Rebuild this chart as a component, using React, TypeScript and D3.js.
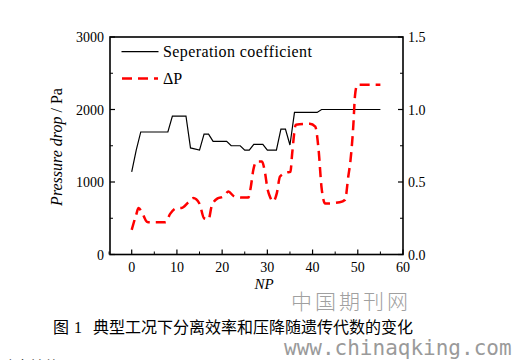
import React from 'react';
import * as d3 from 'd3';

// separation coefficient (right axis), vertices
const sepNP = [0, 1, 2, 8, 9, 12, 13, 15, 16, 17, 18, 21, 22, 24, 25, 26, 27, 29, 30, 32, 33, 34, 35, 36, 41, 42, 55];
const sepVal = [0.57, 0.72, 0.845, 0.845, 0.955, 0.955, 0.735, 0.72, 0.83, 0.83, 0.78, 0.78, 0.75, 0.75, 0.72, 0.72, 0.76, 0.76, 0.72, 0.72, 0.865, 0.865, 0.755, 0.98, 0.98, 1.0, 1.0];

// pressure drop (left axis, Pa)
const dpNP = [0, 1, 1.5, 2.5, 3.3, 4, 7.5, 8.5, 10, 11, 12.5, 13.6, 15, 16, 17, 17.7, 19, 20.3, 21.4, 22.5, 24.3, 25.8, 26.3, 26.9, 27.6, 28.8, 29.5, 30, 30.6, 31.3, 32.1, 32.8, 34.3, 35.1, 35.5, 36.3, 39.4, 40.6, 41.3, 42, 42.8, 46, 47.2, 47.9, 48.4, 49, 49.4, 49.9, 55];
const dpVal = [340, 550, 640, 550, 455, 445, 445, 560, 640, 640, 717, 778, 700, 500, 485, 672, 775, 800, 869, 810, 786, 786, 916, 1168, 1283, 1283, 1123, 916, 793, 731, 847, 1076, 1131, 1140, 1400, 1790, 1805, 1765, 1467, 916, 703, 720, 755, 1076, 1306, 1766, 2203, 2340, 2340];

const xTicks = [0, 10, 20, 30, 40, 50, 60];
const xMinor = [-5, 5, 15, 25, 35, 45, 55];
const leftTicks = [0, 1000, 2000, 3000];
const leftMinor = [500, 1500, 2500];
const rightTicks = ['0.0', '0.5', '1.0', '1.5'];
const rightMinor = [0.25, 0.75, 1.25];

const W = 517;
const H = 360;
const serif = '"Liberation Serif", serif';
const cjk = '"Noto Sans CJK SC", sans-serif';

export default function App(): JSX.Element {
  const left = 110;
  const right = 403;
  const top = 37;
  const bottom = 254.5;

  const x = d3.scaleLinear().domain([-4.8, 60]).range([left, right]);
  const yL = d3.scaleLinear().domain([0, 3000]).range([bottom, top]);
  const yR = d3.scaleLinear().domain([0, 1.5]).range([bottom, top]);

  const sepLine = d3
    .line<number>()
    .x((_, i) => x(sepNP[i]))
    .y((d) => yR(d))(sepVal) || '';
  const dpLine = d3
    .line<number>()
    .x((_, i) => x(dpNP[i]))
    .y((d) => yL(d))
    .curve(d3.curveMonotoneX)(dpVal) || '';

  return (
    <svg
      width={W}
      height={H}
      style={{ position: 'absolute', left: 0, top: 0, background: 'white' }}
    >
      {/* frame */}
      <rect x={left} y={top} width={right - left} height={bottom - top} fill="none" stroke="#000" strokeWidth={1.6} />

      {/* bottom ticks */}
      {xTicks.map((t) => (
        <g key={'xt' + t}>
          <line x1={x(t)} x2={x(t)} y1={bottom} y2={bottom - 5} stroke="#000" strokeWidth={1.2} />
          <text x={x(t)} y={272} textAnchor="middle" style={{ fontFamily: serif }} fontSize={14}>
            {t}
          </text>
        </g>
      ))}
      {xMinor.map((t) => (
        <line key={'xm' + t} x1={x(t)} x2={x(t)} y1={bottom} y2={bottom - 3} stroke="#000" strokeWidth={1} />
      ))}

      {/* left ticks */}
      {leftTicks.map((t) => (
        <g key={'lt' + t}>
          <line x1={left} x2={left + 5} y1={yL(t)} y2={yL(t)} stroke="#000" strokeWidth={1.2} />
          <text x={104} y={yL(t) + 5} textAnchor="end" style={{ fontFamily: serif }} fontSize={14}>
            {t}
          </text>
        </g>
      ))}
      {leftMinor.map((t) => (
        <line key={'lm' + t} x1={left} x2={left + 3} y1={yL(t)} y2={yL(t)} stroke="#000" strokeWidth={1} />
      ))}

      {/* right ticks */}
      {rightTicks.map((t) => (
        <g key={'rt' + t}>
          <line x1={right} x2={right - 5} y1={yR(+t)} y2={yR(+t)} stroke="#000" strokeWidth={1.2} />
          <text x={408} y={yR(+t) + 5} style={{ fontFamily: serif }} fontSize={14}>
            {t}
          </text>
        </g>
      ))}
      {rightMinor.map((t) => (
        <line key={'rm' + t} x1={right} x2={right - 3} y1={yR(t)} y2={yR(t)} stroke="#000" strokeWidth={1} />
      ))}

      {/* series */}
      <path d={sepLine} fill="none" stroke="#000" strokeWidth={1.2} />
      <path d={dpLine} fill="none" stroke="#ff0000" strokeWidth={2.5} strokeDasharray="10 6" />

      {/* legend */}
      <line x1={121.5} x2={158.5} y1={51.7} y2={51.7} stroke="#000" strokeWidth={1.2} />
      <text x={163} y={57} style={{ fontFamily: serif }} fontSize={16} letterSpacing={0.4}>
        Seperation coefficient
      </text>
      <line x1={122} x2={158} y1={78.5} y2={78.5} stroke="#ff0000" strokeWidth={2.5} strokeDasharray="10 6" />
      <text x={163} y={84} style={{ fontFamily: serif }} fontSize={16}>
        ΔP
      </text>

      {/* axis titles */}
      <text
        transform="translate(62,147) rotate(-90)"
        textAnchor="middle"
        style={{ fontFamily: serif }}
        fontSize={16}
      >
        <tspan fontStyle="italic">Pressure drop</tspan>
        <tspan> / Pa</tspan>
      </text>
      <text x={264} y={289} textAnchor="middle" style={{ fontFamily: serif }} fontSize={15} fontStyle="italic">
        NP
      </text>

      {/* watermark + caption */}
      <text x={291} y={309} style={{ fontFamily: cjk }} fontSize={21} fill="#a0a0a0" fontWeight={300} letterSpacing={3}>
        中国期刊网
      </text>
      <text y={333} style={{ fontFamily: cjk }} fontSize={16} fill="#000">
        <tspan x={53}>图</tspan>
        <tspan x={74} style={{ fontFamily: serif }}>1</tspan>
        <tspan x={93}>典型工况下分离效率和压降随遗传代数的变化</tspan>
      </text>
      <text x={284} y={355} style={{ fontFamily: '"DejaVu Sans Mono", monospace' }} fontSize={21} fill="#9a9a9a">
        www.chinaqking.com
      </text>
      <text x={0} y={372} style={{ fontFamily: cjk }} fontSize={15} fill="#333">
        动态性能
      </text>
    </svg>
  );
}
